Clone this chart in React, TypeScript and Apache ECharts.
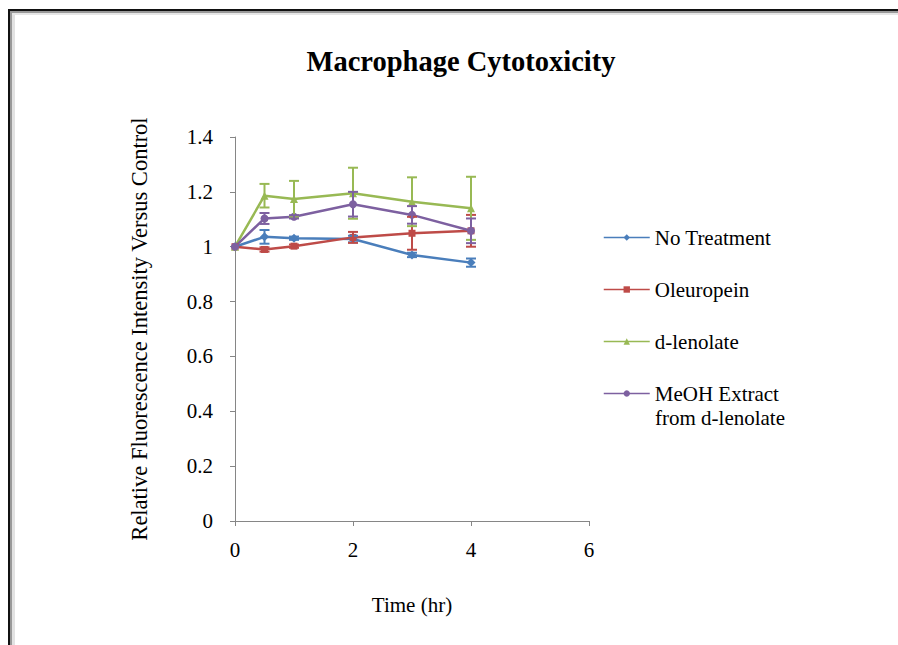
import React, { useEffect, useRef } from "react";
import * as echarts from "echarts";

const time = [0, 0.5, 1, 2, 3, 4];
const noTreatment = [1.0, 1.036, 1.031, 1.028, 0.97, 0.942];
const noTreatmentErr = [0, 0.025, 0.006, 0.012, 0.008, 0.015];
const oleuropein = [1.0, 0.99, 1.002, 1.034, 1.049, 1.058];
const oleuropeinErr = [0, 0.008, 0.006, 0.02, 0.06, 0.058];
const dLenolate = [1.0, 1.186, 1.174, 1.195, 1.164, 1.14];
const dLenolateErr = [0, 0.043, 0.066, 0.093, 0.089, 0.115];
const meoh = [1.0, 1.103, 1.109, 1.155, 1.116, 1.058];
const meohErr = [0, 0.02, 0.006, 0.045, 0.032, 0.045];

const seriesNames = ["No Treatment", "Oleuropein", "d-lenolate", "MeOH Extract from d-lenolate"];
const colors = ["#4A7EBB", "#BE4B48", "#98B954", "#7D60A0"];
const symbols = ["diamond", "rect", "triangle", "circle"];
const values = [noTreatment, oleuropein, dLenolate, meoh];
const errors = [noTreatmentErr, oleuropeinErr, dLenolateErr, meohErr];

const FONT = "Liberation Serif";

export default function App() {
  const ref = useRef<HTMLDivElement>(null);
  useEffect(() => {
    if (!ref.current) return;
    const chart = echarts.init(ref.current, null, { renderer: "svg" });

    const lineSeries = values.map((vals, i) => ({
      name: seriesNames[i],
      type: "line",
      data: time.map((t, j) => [t, vals[j]]),
      symbol: symbols[i],
      symbolSize: symbols[i] === "rect" ? 7 : symbols[i] === "diamond" ? 9 : 8,
      lineStyle: { color: colors[i], width: 2.5 },
      itemStyle: { color: colors[i] },
      z: 3,
    }));

    const errSeries = values.map((vals, i) => ({
      name: seriesNames[i] + " err",
      type: "custom",
      data: time
        .map((t, j) => [t, vals[j] - errors[i][j], vals[j] + errors[i][j]])
        .filter((d) => d[2] - d[1] > 0),
      renderItem: (params: any, api: any) => {
        const x = api.value(0);
        const lo = api.coord([x, api.value(1)]);
        const hi = api.coord([x, api.value(2)]);
        const hw = 5;
        const style = { stroke: colors[i], lineWidth: 2 };
        return {
          type: "group",
          children: [
            { type: "line", shape: { x1: lo[0], y1: lo[1], x2: hi[0], y2: hi[1] }, style },
            { type: "line", shape: { x1: lo[0] - hw, y1: lo[1], x2: lo[0] + hw, y2: lo[1] }, style },
            { type: "line", shape: { x1: hi[0] - hw, y1: hi[1], x2: hi[0] + hw, y2: hi[1] }, style },
          ],
        };
      },
      z: 4,
      silent: true,
    }));

    chart.setOption({
      animation: false,
      backgroundColor: "#ffffff",
      title: {
        text: "Macrophage Cytotoxicity",
        left: 456,
        top: 42,
        textAlign: "center",
        textStyle: { fontFamily: FONT, fontWeight: "bold", fontSize: 28.5, color: "#000" },
      },
      grid: { left: 235, right: 309, top: 137, bottom: 124 },
      xAxis: {
        type: "value",
        min: 0,
        max: 6,
        interval: 2,
        name: "Time (hr)",
        nameLocation: "middle",
        nameGap: 73,
        nameTextStyle: { fontFamily: FONT, fontSize: 21, color: "#000" },
        axisLine: { lineStyle: { color: "#868686", width: 1 } },
        axisTick: { show: true, length: 5, lineStyle: { color: "#868686" } },
        axisLabel: { fontFamily: FONT, fontSize: 21, color: "#000", margin: 18 },
        splitLine: { show: false },
      },
      yAxis: {
        type: "value",
        min: 0,
        max: 1.4,
        interval: 0.2,
        name: "Relative Fluorescence Intensity Versus Control",
        nameLocation: "middle",
        nameGap: 84,
        nameTextStyle: { fontFamily: FONT, fontSize: 22.5, color: "#000" },
        axisLine: { show: true, lineStyle: { color: "#868686", width: 1 } },
        axisTick: { show: true, length: 5, lineStyle: { color: "#868686" } },
        axisLabel: { fontFamily: FONT, fontSize: 21, color: "#000", margin: 22 },
        splitLine: { show: false },
      },
      legend: {
        data: seriesNames,
        orient: "vertical",
        left: 598,
        top: 222,
        itemWidth: 46,
        itemHeight: 8,
        itemGap: 31,
        formatter: (name: string) => (name.startsWith("MeOH") ? "MeOH Extract" : name),
        textStyle: { fontFamily: FONT, fontSize: 21, color: "#000", lineHeight: 21 },
        lineStyle: { width: 1.5 },
      },
      graphic: [
        { type: "rect", shape: { x: 8, y: 9, width: 2, height: 640 }, style: { fill: "#111" } },
        { type: "rect", shape: { x: 10, y: 11, width: 2, height: 640 }, style: { fill: "#999" } },
        { type: "rect", shape: { x: 12, y: 13, width: 3, height: 640 }, style: { fill: "#e2e2e2" } },
        { type: "rect", shape: { x: 8, y: 9, width: 890, height: 2 }, style: { fill: "#111" } },
        { type: "rect", shape: { x: 10, y: 11, width: 888, height: 2 }, style: { fill: "#999" } },
        { type: "rect", shape: { x: 12, y: 13, width: 886, height: 2 }, style: { fill: "#e6e6e6" } },
        {
          type: "text",
          x: 655,
          y: 418,
          style: {
            text: "from d-lenolate",
            fontFamily: FONT,
            fontSize: 21,
            fill: "#000",
            verticalAlign: "middle",
          },
        },
      ],
      series: [...errSeries, ...lineSeries],
    });
    return () => chart.dispose();
  }, []);
  return (
    <div
      ref={ref}
      style={{ position: "fixed", left: 0, top: 0, width: 898, height: 645 }}
    />
  );
}
